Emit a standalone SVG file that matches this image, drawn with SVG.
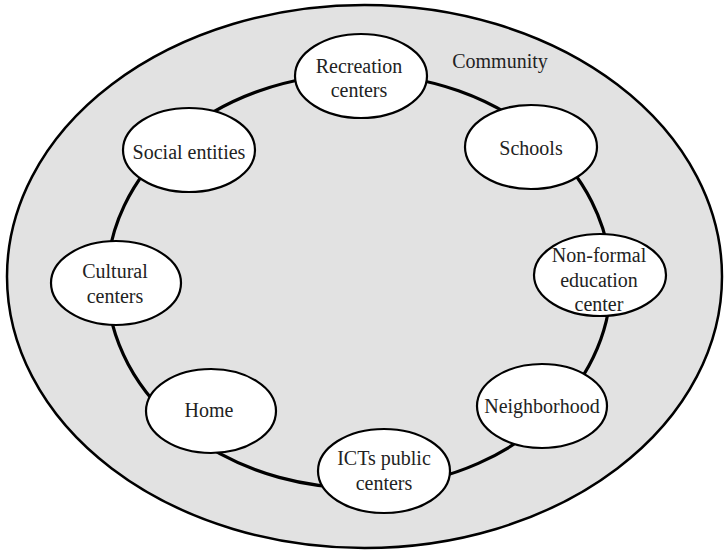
<svg xmlns="http://www.w3.org/2000/svg" width="724" height="551" viewBox="0 0 724 551">
<style>
.outer{fill:#e2e2e2;stroke:#000;stroke-width:2.5}
.ring{fill:none;stroke:#000;stroke-width:3.2}
.node{fill:#fff;stroke:#000;stroke-width:2.2}
.t{font-size:20px;fill:#222;text-anchor:middle}
</style>
<rect width="724" height="551" fill="#fff"/>
<g id="community">
<ellipse class="outer" cx="364.5" cy="276.5" rx="357.5" ry="271.5"/>
<text class="t" font-family="Liberation Serif, DejaVu Serif, serif" x="500" y="68">Community</text>
</g>
<g id="connectors">
<path class="ring" d="M359,74 A252,207 0 0 1 541.8,138.5"/>
<path class="ring" d="M541.8,138.5 A252,207 0 0 1 610.9,274.9"/>
<path class="ring" d="M610.9,274.9 A252,207 0 0 1 552.9,413.2"/>
<path class="ring" d="M552.9,413.2 A252,207 0 0 1 386.2,486.8"/>
<path class="ring" d="M386.2,486.8 A252,207 0 0 1 186.6,432.1"/>
<path class="ring" d="M186.6,432.1 A252,207 0 0 1 107,282.8"/>
<path class="ring" d="M107,282.8 A252,207 0 0 1 175.3,139.2"/>
<path class="ring" d="M175.3,139.2 A252,207 0 0 1 359,74"/>
</g>
<g id="recreation">
<ellipse class="node" cx="361" cy="76" rx="66" ry="42"/>
<text class="t" font-family="Liberation Serif, DejaVu Serif, serif" x="359" y="73">Recreation</text>
<text class="t" font-family="Liberation Serif, DejaVu Serif, serif" x="359" y="97">centers</text>
</g>
<g id="schools">
<ellipse class="node" cx="531" cy="147" rx="66" ry="42"/>
<text class="t" font-family="Liberation Serif, DejaVu Serif, serif" x="531" y="155">Schools</text>
</g>
<g id="nonformal">
<ellipse class="node" cx="600" cy="275" rx="66" ry="41"/>
<text class="t" font-family="Liberation Serif, DejaVu Serif, serif" x="599" y="262">Non-formal</text>
<text class="t" font-family="Liberation Serif, DejaVu Serif, serif" x="599" y="287">education</text>
<text class="t" font-family="Liberation Serif, DejaVu Serif, serif" x="599" y="311">center</text>
</g>
<g id="neighborhood">
<ellipse class="node" cx="542" cy="406" rx="65" ry="42"/>
<text class="t" font-family="Liberation Serif, DejaVu Serif, serif" x="542" y="413">Neighborhood</text>
</g>
<g id="icts">
<ellipse class="node" cx="384" cy="471" rx="66" ry="42"/>
<text class="t" font-family="Liberation Serif, DejaVu Serif, serif" x="384" y="465">ICTs public</text>
<text class="t" font-family="Liberation Serif, DejaVu Serif, serif" x="384" y="490">centers</text>
</g>
<g id="home">
<ellipse class="node" cx="211" cy="411" rx="65" ry="42"/>
<text class="t" font-family="Liberation Serif, DejaVu Serif, serif" x="209" y="417">Home</text>
</g>
<g id="cultural">
<ellipse class="node" cx="116" cy="283" rx="65" ry="42"/>
<text class="t" font-family="Liberation Serif, DejaVu Serif, serif" x="115" y="278">Cultural</text>
<text class="t" font-family="Liberation Serif, DejaVu Serif, serif" x="115" y="303">centers</text>
</g>
<g id="social">
<ellipse class="node" cx="189" cy="150" rx="66" ry="42"/>
<text class="t" font-family="Liberation Serif, DejaVu Serif, serif" x="189" y="159">Social entities</text>
</g>
</svg>
